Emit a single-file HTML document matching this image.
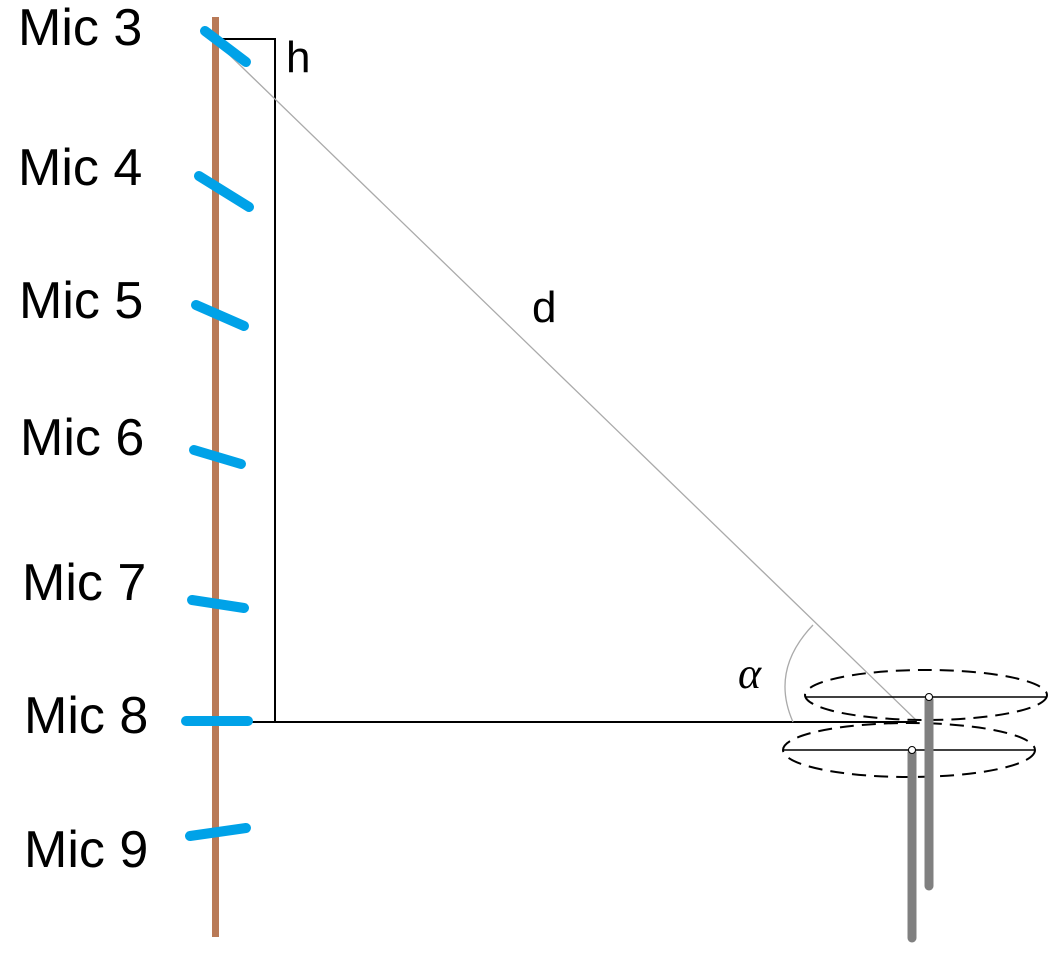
<!DOCTYPE html>
<html><head><meta charset="utf-8"><style>
html,body{margin:0;padding:0;background:#fff;}
svg{display:block;}
text{font-family:"Liberation Sans",Arial,sans-serif;fill:#000;}
</style></head><body>
<svg width="1055" height="963" viewBox="0 0 1055 963" xmlns="http://www.w3.org/2000/svg">
<rect width="1055" height="963" fill="#fff"/>
<line x1="215.5" y1="17" x2="215.5" y2="937" stroke="#b97a57" stroke-width="7"/>
<polyline points="213,39 275,39 275,722 250,722" fill="none" stroke="#000" stroke-width="2"/>
<line x1="275" y1="722" x2="917" y2="722" stroke="#000" stroke-width="2"/>
<line x1="212" y1="38" x2="917" y2="721" stroke="#aaa" stroke-width="1.3"/>
<path d="M793,722 Q770,670 813,625" fill="none" stroke="#aaa" stroke-width="1.3"/>
<g stroke="#00a2e8" stroke-width="10" stroke-linecap="round" fill="none">
<line x1="205" y1="31" x2="246" y2="62"/>
<line x1="199" y1="176" x2="249" y2="207"/>
<line x1="196" y1="305" x2="244" y2="326"/>
<line x1="194" y1="450" x2="241" y2="464"/>
<line x1="192" y1="600" x2="244" y2="608"/>
<line x1="186" y1="721" x2="248" y2="721"/>
<line x1="190" y1="836" x2="246" y2="828"/>
</g>
<g font-size="52">
<text x="18" y="45">Mic 3</text>
<text x="18" y="185">Mic 4</text>
<text x="19" y="318">Mic 5</text>
<text x="20" y="455">Mic 6</text>
<text x="22" y="600">Mic 7</text>
<text x="24" y="733">Mic 8</text>
<text x="24" y="867">Mic 9</text>
</g>
<text x="286" y="72" font-size="44">h</text>
<text x="532" y="322" font-size="44">d</text>
<text x="738" y="688" font-size="44" font-style="italic" style="font-family:'Liberation Serif',serif">α</text>
<ellipse cx="926" cy="695" rx="121" ry="25" fill="none" stroke="#000" stroke-width="2" stroke-dasharray="14,8"/>
<line x1="806" y1="697" x2="1046" y2="697" stroke="#000" stroke-width="1.5"/>
<ellipse cx="909" cy="750" rx="126" ry="27" fill="none" stroke="#000" stroke-width="2" stroke-dasharray="14,8"/>
<line x1="784" y1="750" x2="1034" y2="750" stroke="#000" stroke-width="1.5"/>
<line x1="929" y1="700" x2="929" y2="886" stroke="#808080" stroke-width="9" stroke-linecap="round"/>
<line x1="912" y1="753" x2="912" y2="938" stroke="#808080" stroke-width="9" stroke-linecap="round"/>
<circle cx="929" cy="697" r="3.5" fill="#fff" stroke="#000" stroke-width="1"/>
<circle cx="912" cy="750" r="3.5" fill="#fff" stroke="#000" stroke-width="1"/>
</svg>
</body></html>
